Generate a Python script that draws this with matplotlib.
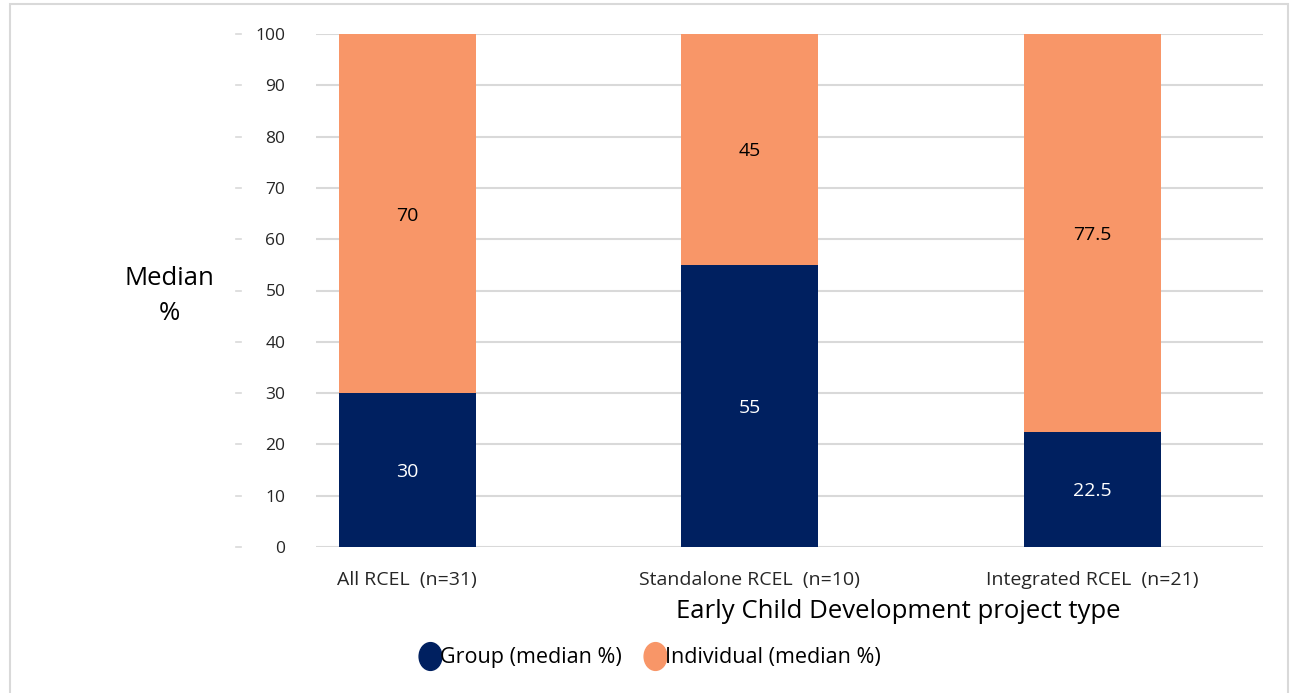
import matplotlib
matplotlib.use("Agg")
import matplotlib.pyplot as plt
from matplotlib.patches import Rectangle
from matplotlib.lines import Line2D
from matplotlib.path import Path
import matplotlib.transforms as mtransforms

categories = ["All RCEL  (n=31)", "Standalone RCEL  (n=10)", "Integrated RCEL  (n=21)"]
group_vals = [30, 55, 22.5]
indiv_vals = [70, 45, 77.5]
group_labels = ["30", "55", "22.5"]
indiv_labels = ["70", "45", "77.5"]
yticks = [0, 10, 20, 30, 40, 50, 60, 70, 80, 90, 100]

NAVY = "#002060"
ORANGE = "#F89668"
GRID = "#D9D9D9"
TXT = "#262626"

plt.rcParams['font.family'] = ['Open Sans', 'DejaVu Sans']

W, H = 1293, 693
fig = plt.figure(figsize=(W/100, H/100), dpi=100)
ax = fig.add_axes([316/W, 1-547/H, (1263-316)/W, (547-34)/H])

x = list(range(len(categories)))
ax.bar(x, group_vals, width=0.40, color=NAVY, zorder=3)
ax.bar(x, indiv_vals, width=0.40, bottom=group_vals, color=ORANGE, zorder=3)

for i in x:
    ax.text(i, group_vals[i]/2, group_labels[i], ha='center', va='center_baseline',
            color='white', fontsize=14, zorder=4)
    ax.text(i, group_vals[i] + indiv_vals[i]/2, indiv_labels[i], ha='center',
            va='center_baseline', color='black', fontsize=14, zorder=4)

ax.set_xlim(-0.266, 2.499)
ax.set_ylim(0, 100)
ax.set_yticks(yticks)
ax.set_yticklabels([str(t) for t in yticks], fontsize=12.5, color=TXT)
ax.tick_params(axis='y', length=0, pad=22)
ax.set_xticks(x)
ax.set_xticklabels(categories, fontsize=14, color=TXT)
ax.tick_params(axis='x', length=0, pad=17)
ax.grid(axis='y', color=GRID, linewidth=1.5, zorder=0)
for s in ax.spines.values():
    s.set_visible(False)

# small tick dashes left of labels
trans = mtransforms.blended_transform_factory(ax.transAxes, ax.transData)
for t in yticks:
    ax.add_line(Line2D([(236-316)/947, (241-316)/947], [t, t], transform=trans,
                       color=GRID, linewidth=1.2, clip_on=False))

ax.set_xlabel("Early Child Development project type", fontsize=18.5, color='black')
ax.xaxis.set_label_coords((898-316)/947, -(612-547)/513)
ax.xaxis.label.set_va('center')
ax.set_ylabel("Median\n%", fontsize=18.5, color='black', rotation=0, ha='center', va='center',
              linespacing=1.55)
ax.yaxis.set_label_coords((169-316)/947, (547-296)/513)

circ = Path.unit_circle()
ellipse = Path(circ.vertices * [0.82, 1.0], circ.codes)
handles = [Line2D([], [], marker=ellipse, linestyle='none', markersize=20, color=NAVY),
           Line2D([], [], marker=ellipse, linestyle='none', markersize=20, color=ORANGE)]
fig.legend(handles, ["Group (median %)", "Individual (median %)"], loc='center',
           bbox_to_anchor=(650/W, 1-658/H), ncol=2, frameon=False, fontsize=15.5,
           handletextpad=0.0, columnspacing=1.0, handlelength=1.0)

fig.patches.append(Rectangle((10/W, -0.01), (1288-10)/W, 1-4/H+0.01, transform=fig.transFigure,
                             fill=False, edgecolor=GRID, linewidth=1.5))

fig.savefig("out.png", dpi=100, facecolor='white')
